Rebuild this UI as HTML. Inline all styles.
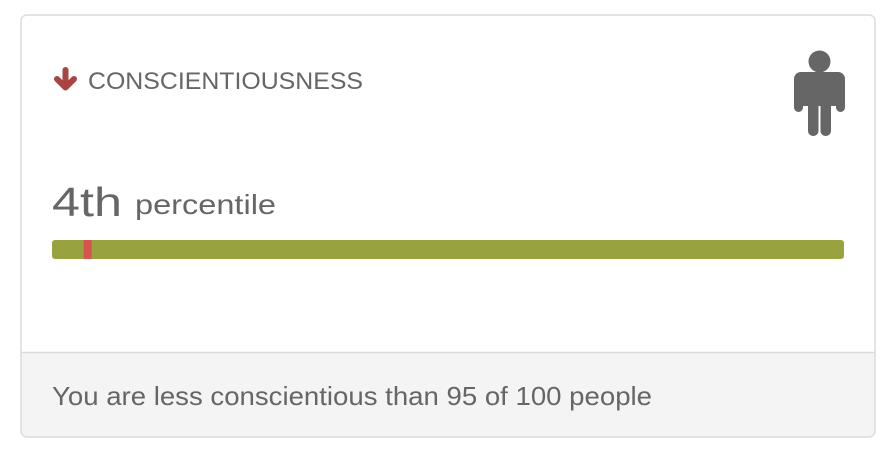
<!DOCTYPE html>
<html><head><meta charset="utf-8"><style>
html,body{margin:0;padding:0;background:#fff;width:896px;height:458px;overflow:hidden}
svg{display:block}
text{font-family:"Liberation Sans",sans-serif;fill:#666}
</style></head><body>
<svg width="896" height="458" viewBox="0 0 896 458">
<script>
const percentileValue = [4];
</script>
<defs><clipPath id="cardclip"><rect x="21" y="15" width="854" height="422" rx="6"/></clipPath></defs>
<g>
<rect x="21" y="15" width="854" height="422" rx="6" fill="#fff"/>
<rect x="21" y="352" width="854" height="85" fill="#f4f4f4" clip-path="url(#cardclip)"/>
<line x1="21" y1="352.5" x2="875" y2="352.5" stroke="#dcdcdc" stroke-width="1.5"/>
<rect x="21" y="15" width="854" height="422" rx="6" fill="none" stroke="#dcdcdc" stroke-width="1.5"/>
</g>
<g fill="none" stroke="#a94442" stroke-width="6" stroke-linecap="round" stroke-linejoin="round">
<line x1="65.5" y1="70" x2="65.5" y2="86"/>
<polyline points="57,79 65.5,87.5 74,79"/>
</g>
<text x="88" y="89" font-size="24" textLength="275" lengthAdjust="spacingAndGlyphs">CONSCIENTIOUSNESS</text>
<g fill="#666">
<circle cx="819.5" cy="61.5" r="11"/>
<rect x="794" y="72" width="51" height="34" rx="7"/>
<rect x="794" y="80" width="9" height="32" rx="4.5"/>
<rect x="836" y="80" width="9" height="32" rx="4.5"/>
<rect x="803" y="90" width="33" height="16"/>
<rect x="808" y="100" width="10.5" height="36" rx="5"/>
<rect x="820.5" y="100" width="10.5" height="36" rx="5"/>
</g>
<text x="52" y="216" font-size="41" textLength="70" lengthAdjust="spacingAndGlyphs">4th</text>
<text x="135" y="214" font-size="28" fill="#777" textLength="141" lengthAdjust="spacingAndGlyphs">percentile</text>
<rect x="52" y="240" width="792" height="19" rx="3" fill="#98a23e"/>
<rect id="marker" x="84" y="240" width="8" height="19" fill="#d9534f"/>
<text x="52" y="405" font-size="26" textLength="600" lengthAdjust="spacingAndGlyphs">You are less conscientious than 95 of 100 people</text>
<script>
(function(){
  const x0 = 52, w = 792;
  const xs = v => x0 + v / 100 * w;
  const m = document.getElementById('marker');
  m.setAttribute('x', xs(percentileValue[0]));
})();
</script>
</svg>
</body></html>
